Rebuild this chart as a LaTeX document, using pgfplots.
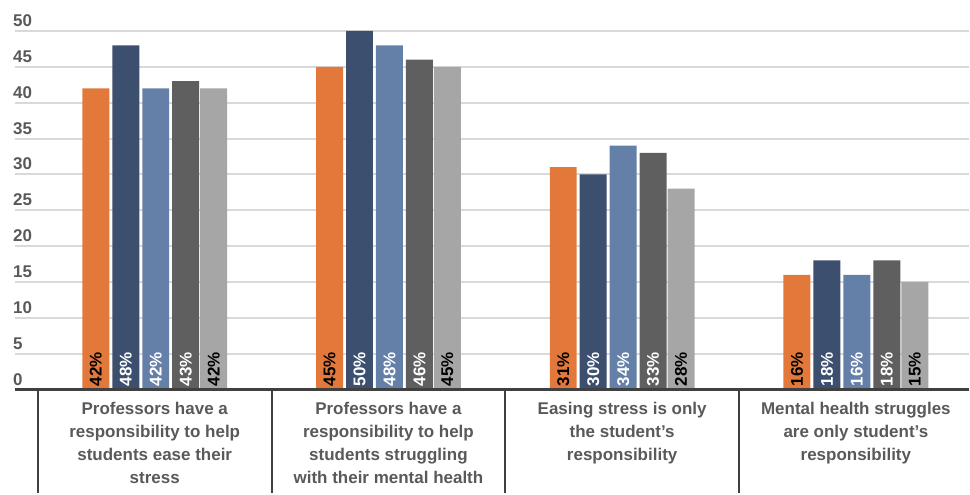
\documentclass[border=0pt]{standalone}
\usepackage{fontspec}
\setmainfont{Liberation Sans}
\usepackage{pgfplots}
\usepackage{pgfplotstable}
\pgfplotsset{compat=1.18}
\definecolor{cOr}{HTML}{E2793A}
\definecolor{cNv}{HTML}{3D4F6F}
\definecolor{cBl}{HTML}{6580A8}
\definecolor{cDg}{HTML}{5F5F5F}
\definecolor{cLg}{HTML}{A6A6A6}
\definecolor{txt}{HTML}{595959}
\definecolor{gridc}{HTML}{D9D9D9}
\definecolor{basec}{HTML}{404040}
\pgfplotstableread{
x or nv bl dg lg
0 42 48 42 43 42
1 45 50 48 46 45
2 31 30 34 33 28
3 16 18 16 18 15
}\data
\pgfplotsset{
  barlab/.style 2 args={draw=none, mark=none,
    point meta=explicit,
    nodes near coords={\pgfmathprintnumber{\pgfplotspointmeta}\%},
    nodes near coords style={xshift=#2, rotate=90, anchor=west, inner sep=3pt,
      font=\bfseries\fontsize{17}{17}\selectfont, text=#1}},
}
\begin{document}
\begin{tikzpicture}
\begin{axis}[
  scale only axis, width=955pt, height=359pt,
  xmin=-0.598, xmax=3.483, ymin=0, ymax=50,
  enlargelimits=false, clip=false,
  axis line style={draw=none},
  major tick length=0pt,
  ytick={0,5,...,50},
  /pgf/number format/assume math mode=true,
  ymajorgrids, grid style={line width=2pt, gridc},
  yticklabel style={anchor=south west, xshift=-3pt, yshift=3pt, inner sep=1pt,
    font=\bfseries\fontsize{17}{17}\selectfont, text=txt},
  xtick={0,1,2,3},
  xticklabels={
    {Professors have a\\responsibility to help\\students ease their\\stress},
    {Professors have a\\responsibility to help\\students struggling\\with their mental health},
    {Easing stress is only\\the student's\\responsibility},
    {Mental health struggles\\are only student's\\responsibility}},
  xticklabel style={align=center, anchor=north, yshift=-9pt,
    font=\bfseries\fontsize{17}{23}\selectfont, text=txt},
]
\addplot[ybar, bar width=27pt, bar shift=-59pt, fill=cOr, draw=none] table[x=x,y=or]{\data};
\addplot[ybar, bar width=27pt, bar shift=-29pt, fill=cNv, draw=none] table[x=x,y=nv]{\data};
\addplot[ybar, bar width=27pt, bar shift=1pt, fill=cBl, draw=none] table[x=x,y=bl]{\data};
\addplot[ybar, bar width=27pt, bar shift=31pt, fill=cDg, draw=none] table[x=x,y=dg]{\data};
\addplot[ybar, bar width=27pt, bar shift=59pt, fill=cLg, draw=none] table[x=x,y=lg]{\data};
\addplot[barlab={black}{-59pt}] table[x=x, y expr=0, meta=or]{\data};
\addplot[barlab={white}{-29pt}] table[x=x, y expr=0, meta=nv]{\data};
\addplot[barlab={white}{1pt}] table[x=x, y expr=0, meta=bl]{\data};
\addplot[barlab={white}{31pt}] table[x=x, y expr=0, meta=dg]{\data};
\addplot[barlab={black}{59pt}] table[x=x, y expr=0, meta=lg]{\data};
\draw[basec, line width=2.5pt] (axis cs:-0.598,0) -- (axis cs:3.483,0);
\pgfplotsinvokeforeach{-0.5,0.5,1.5,2.5}{
  \draw[basec, line width=2pt] (axis cs:#1,0) -- ([yshift=-104pt]axis cs:#1,0);
}
\path ([xshift=-15pt,yshift=31pt]rel axis cs:0,1) ([yshift=-105pt]rel axis cs:1,0);
\end{axis}
\end{tikzpicture}
\end{document}
